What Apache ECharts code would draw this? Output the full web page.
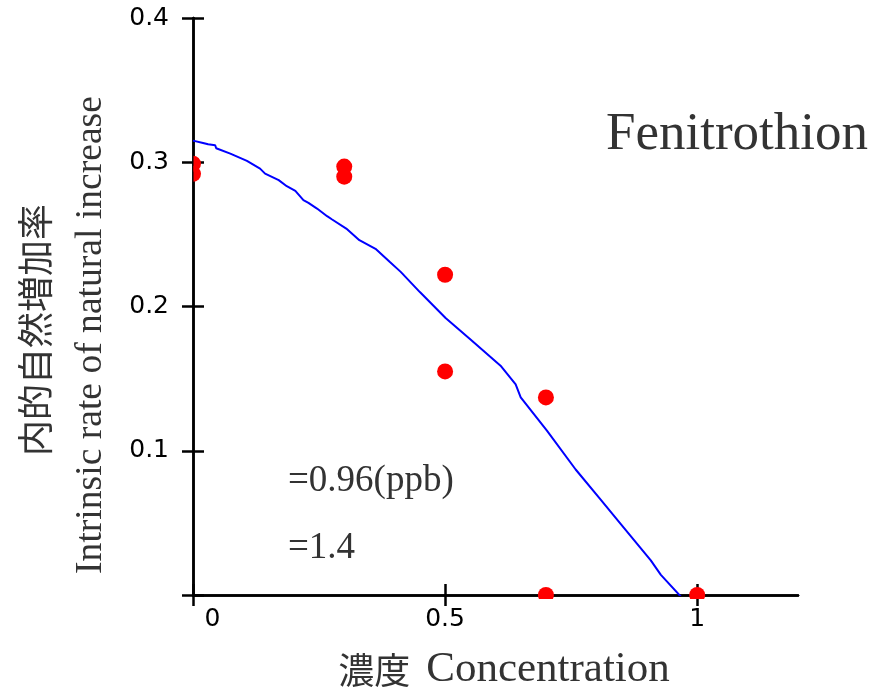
<!DOCTYPE html>
<html>
<head>
<meta charset="utf-8">
<script src="https://cdn.jsdelivr.net/npm/echarts@6/dist/echarts.min.js"></script>
<style>html,body{margin:0;padding:0;background:#fff;}#chart{width:889px;height:694px;}</style>
</head>
<body>
<div id="chart"></div>
<script>
// ---- data ----
const pointX = [0, 0, 0.3, 0.3, 0.5, 0.5, 0.7, 0.7, 1.0];
const pointY = [0.299, 0.292, 0.297, 0.290, 0.222, 0.155, 0.137, 0.0, 0.0];
const curveX = [0, 0.02, 0.03, 0.044, 0.046, 0.074, 0.107, 0.133, 0.143, 0.17, 0.186, 0.203, 0.219, 0.229, 0.246, 0.266, 0.276, 0.304, 0.33, 0.362, 0.39, 0.412, 0.45, 0.501, 0.551, 0.61, 0.64, 0.65, 0.702, 0.759, 0.809, 0.849, 0.908, 0.928, 0.97];
const curveY = [0.315, 0.3134, 0.3125, 0.3118, 0.3097, 0.306, 0.3009, 0.2956, 0.2921, 0.2876, 0.2834, 0.2801, 0.2737, 0.2718, 0.2679, 0.2626, 0.2603, 0.254, 0.246, 0.240, 0.231, 0.224, 0.210, 0.192, 0.177, 0.159, 0.146, 0.137, 0.114, 0.087, 0.066, 0.049, 0.024, 0.014, -0.002];
const xTicks = [0, 0.5, 1];
const yTicks = [0, 0.1, 0.2, 0.3, 0.4];
const yLabels = [0.1, 0.2, 0.3, 0.4];
const titleText = 'Fenitrothion';
const note1 = '=0.96(ppb)';
const note2 = '=1.4';
const yTitleCJK = '内的自然増加率';
const yTitleEN = 'Intrinsic rate of natural increase';
const xTitleCJK = '濃度';
const xTitleEN = 'Concentration';

const chart = echarts.init(document.getElementById('chart'), null, {renderer: 'canvas'});
const lineSty = {color: '#000', width: 2.5};
const tickFont = {fontFamily: 'DejaVu Sans', fontSize: 25, color: '#000'};
const serif = 'Liberation Serif';
const cjk = 'Noto Sans CJK JP';

function xAxisDef(inside) {
  return {
    type: 'value', min: 0, max: 1.2, position: 'bottom', offset: 0,
    axisLine: {show: true, onZero: false, lineStyle: lineSty},
    axisTick: {show: true, inside: inside, length: 11, lineStyle: lineSty, customValues: xTicks},
    axisLabel: inside ? {show: false} : Object.assign({
      show: true, margin: 12, customValues: xTicks,
      formatter: v => v === 0 ? '{z|0}' : String(v),
      rich: {z: Object.assign({padding: [0, 0, 0, 39]}, tickFont)}
    }, tickFont),
    splitLine: {show: false}
  };
}
function yAxisDef(inside) {
  return {
    type: 'value', min: 0, max: 0.4, position: 'left', offset: 0,
    axisLine: {show: true, onZero: false, lineStyle: lineSty},
    axisTick: {show: true, inside: inside, length: 11, lineStyle: lineSty, customValues: yTicks},
    axisLabel: inside ? {show: false} : Object.assign({
      show: true, margin: 24, customValues: yLabels,
      formatter: v => v.toFixed(1)
    }, tickFont),
    splitLine: {show: false}
  };
}

const option = {
  backgroundColor: '#fff',
  animation: false,
  grid: {left: 193, right: 91, top: 18, bottom: 99, containLabel: false, outerBoundsMode: 'none'},
  xAxis: [xAxisDef(false), xAxisDef(true)],
  yAxis: [yAxisDef(false), yAxisDef(true)],
  series: [
    {
      type: 'line', xAxisIndex: 0, yAxisIndex: 0, z: 3,
      data: curveX.map((x, i) => [x, curveY[i]]),
      showSymbol: false, symbol: 'none', clip: true,
      lineStyle: {color: '#0000ff', width: 2}
    },
    {
      type: 'custom', xAxisIndex: 0, yAxisIndex: 0, z: 10, clip: false,
      data: pointX.map((x, i) => [x, pointY[i]]),
      encode: {x: 0, y: 1},
      renderItem: (params, api) => {
        const p = api.coord([api.value(0), api.value(1)]);
        const tl = api.coord([0, 0.4]);
        const br = api.coord([1.2, 0]);
        return {
          type: 'circle', z2: 10,
          shape: {cx: p[0], cy: p[1], r: 8},
          style: {fill: '#ff0000'},
          clipPath: {type: 'rect', shape: {x: tl[0] + 0.5, y: tl[1], width: br[0] - tl[0], height: br[1] - tl[1] + 4}}
        };
      }
    }
  ],
  graphic: [
    {type: 'text', x: 606, y: 135, style: {text: titleText, font: '53px "Liberation Serif"', fill: '#333', align: 'left', verticalAlign: 'middle'}},
    {type: 'text', x: 288, y: 481, style: {text: note1, font: '37px "Liberation Serif"', fill: '#333', align: 'left', verticalAlign: 'middle'}},
    {type: 'text', x: 288, y: 548, style: {text: note2, font: '37px "Liberation Serif"', fill: '#333', align: 'left', verticalAlign: 'middle'}},
    {type: 'text', x: 35, y: 330, rotation: Math.PI / 2, style: {text: yTitleCJK, font: '36px "Noto Sans CJK JP"', fill: '#333', align: 'center', verticalAlign: 'middle'}},
    {type: 'text', x: 91, y: 335, rotation: Math.PI / 2, style: {text: yTitleEN, font: '37.6px "Liberation Serif"', fill: '#333', align: 'center', verticalAlign: 'middle'}},
    {type: 'text', x: 504, y: 670, style: {
      text: '{a|' + xTitleCJK + '}{b|' + xTitleEN + '}',
      align: 'center', verticalAlign: 'middle',
      rich: {
        a: {fontFamily: cjk, fontSize: 36, fill: '#333', color: '#333', padding: [0, 16, 0, 0]},
        b: {fontFamily: serif, fontSize: 43, fill: '#333', color: '#333'}
      }
    }}
  ]
};
chart.setOption(option);
</script>
</body>
</html>
